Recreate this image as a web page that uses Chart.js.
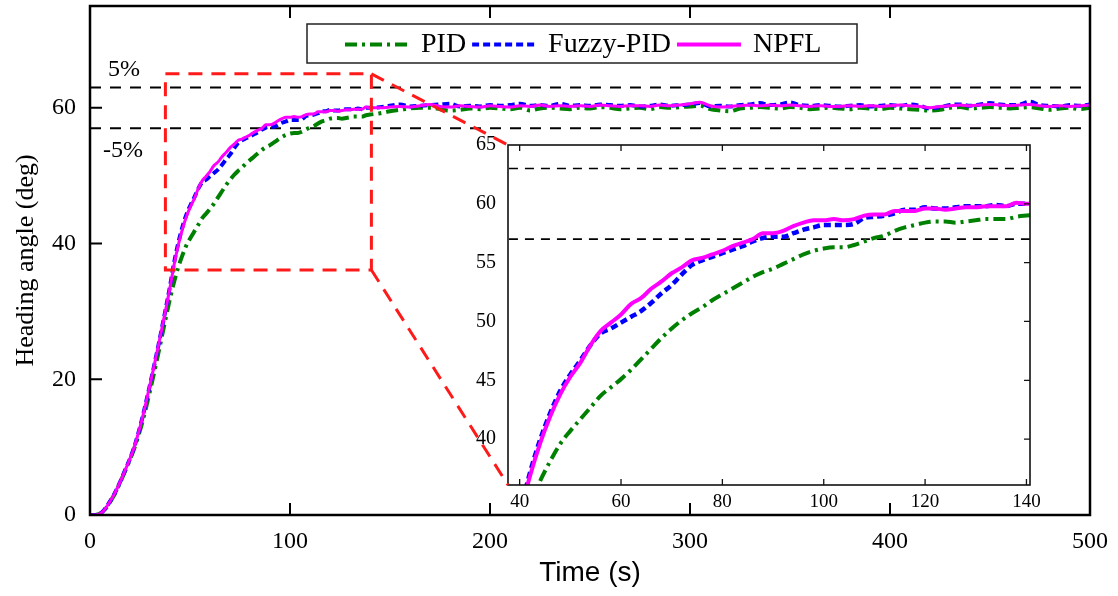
<!DOCTYPE html>
<html>
<head>
<meta charset="utf-8">
<script src="https://cdn.jsdelivr.net/npm/chart.js@4.4.1/dist/chart.umd.min.js"></script>
<style>
  html, body { margin: 0; padding: 0; background: #fff; }
  #wrap { position: relative; width: 1118px; height: 596px; }
  #wrap canvas { position: absolute; left: 0; top: 0; }
</style>
</head>
<body>
<div id="wrap">
  <canvas id="mainChart" width="1118" height="596"></canvas>
  <canvas id="insetChart" width="1118" height="596"></canvas>
</div>
<script>
// heading angle step response, 60 deg setpoint
const seriesNames = ['PID', 'Fuzzy-PID', 'NPFL'];

const time = [
  0, 2, 4, 6, 8, 10, 12, 14, 16, 18,
  20, 22, 24, 26, 28, 30, 32, 34, 36, 38,
  40, 42, 44, 46, 48, 50, 52, 54, 56, 58,
  60, 62, 64, 66, 68, 70, 72, 74, 76, 78,
  80, 82, 84, 86, 88, 90, 92, 94, 96, 98,
  100, 102, 104, 106, 108, 110, 112, 114, 116, 118,
  120, 122, 124, 126, 128, 130, 132, 134, 136, 138,
  140,
  145, 150, 155, 160, 165, 170, 175, 180, 185, 190,
  195, 200, 205, 210, 215, 220, 225, 230, 235, 240,
  245, 250, 255, 260, 265, 270, 275, 280, 285, 290,
  295, 300, 305, 310, 315, 320, 325, 330, 335, 340,
  345, 350, 355, 360, 365, 370, 375, 380, 385, 390,
  395, 400, 405, 410, 415, 420, 425, 430, 435, 440,
  445, 450, 455, 460, 465, 470, 475, 480, 485, 490,
  495, 500
];

const pid = [
  0, 0, 0.1, 0.4, 1.0, 1.9, 2.9, 4.1, 5.4, 6.8,
  8.2, 9.7, 11.5, 13.5, 15.8, 18.3, 20.9, 23.6, 26.4, 29.2,
  31.9, 34.3, 36.4, 38.1, 39.6, 40.7, 41.7, 42.7, 43.7, 44.4,
  45.1, 45.9, 46.8, 47.7, 48.6, 49.4, 50.1, 50.7, 51.2, 51.8,
  52.3, 52.8, 53.3, 53.8, 54.2, 54.5, 54.9, 55.3, 55.7, 56.0,
  56.2, 56.3, 56.3, 56.5, 56.8, 57.1, 57.3, 57.7, 58.0, 58.2,
  58.4, 58.5, 58.5, 58.4, 58.5, 58.6, 58.7, 58.7, 58.7, 58.9,
  59.0,
  59.2, 59.5, 59.7, 59.9, 60.0, 60.0, 59.8, 59.6, 59.7, 59.9,
  59.8, 60.0, 59.9, 59.8, 60.0, 59.6, 59.9, 60.0, 59.9, 59.8,
  60.0, 59.9, 60.1, 60.0, 59.8, 59.9, 60.0, 59.8, 60.1, 60.0,
  60.1, 60.2, 60.3, 59.8, 59.6, 59.5, 59.9, 60.0, 60.1, 60.0,
  59.9, 60.1, 60.0, 59.8, 59.9, 60.0, 59.9, 59.8, 60.0, 59.9,
  59.8, 60.0, 59.9, 59.8, 59.7, 59.6, 59.7, 60.0, 60.1, 59.9,
  60.0, 60.1, 60.0, 59.9, 60.0, 60.1, 59.9, 59.7, 59.9, 60.0,
  59.8, 60.0
];

const fuzzyPid = [
  0, 0, 0.1, 0.4, 1.1, 2.0, 3.0, 4.2, 5.5, 6.9,
  8.3, 9.9, 11.9, 14.1, 16.6, 19.2, 21.9, 24.7, 27.6, 30.6,
  33.7, 37.1, 39.9, 42.2, 44.1, 45.5, 46.7, 48.0, 49.0, 49.4,
  49.9, 50.4, 50.9, 51.6, 52.4, 53.1, 54.0, 54.8, 55.2, 55.5,
  55.8, 56.1, 56.4, 56.8, 57.1, 57.2, 57.2, 57.5, 57.8, 58.0,
  58.2, 58.2, 58.2, 58.3, 58.8, 58.9, 59.0, 59.2, 59.5, 59.5,
  59.7, 59.6, 59.6, 59.7, 59.8, 59.8, 59.8, 59.9, 59.8, 60.0,
  60.0,
  60.1, 60.3, 60.5, 60.2, 60.3, 60.4, 60.5, 60.6, 60.2, 60.3,
  60.2, 60.4, 60.3, 60.4, 60.6, 60.3, 60.4, 60.3, 60.6, 60.3,
  60.4, 60.3, 60.5, 60.4, 60.3, 60.4, 60.2, 60.3, 60.5, 60.3,
  60.4, 60.5, 60.7, 60.2, 60.3, 60.2, 60.4, 60.5, 60.7, 60.4,
  60.5, 60.8, 60.4, 60.3, 60.4, 60.3, 60.2, 60.3, 60.4, 60.2,
  60.3, 60.4, 60.3, 60.5, 60.3, 59.9, 60.1, 60.4, 60.5, 60.3,
  60.5, 60.7, 60.5, 60.4, 60.5, 60.9, 60.4, 60.3, 60.2, 60.4,
  60.3, 60.5
];

const npfl = [
  0, 0, 0.1, 0.4, 1.1, 2.0, 3.0, 4.2, 5.5, 6.9,
  8.3, 9.9, 11.9, 14.1, 16.6, 19.2, 21.9, 24.7, 27.6, 30.5,
  33.5, 36.8, 39.6, 41.9, 43.8, 45.3, 46.5, 48.0, 49.2, 49.9,
  50.6, 51.5, 52.0, 52.8, 53.4, 54.1, 54.6, 55.2, 55.4, 55.7,
  56.0, 56.4, 56.7, 57.0, 57.5, 57.5, 57.7, 58.1, 58.4, 58.6,
  58.6, 58.7, 58.6, 58.7, 59.0, 59.1, 59.1, 59.4, 59.4, 59.4,
  59.6, 59.6, 59.5, 59.6, 59.7, 59.7, 59.8, 59.8, 59.8, 60.1,
  60.0,
  60.0, 60.1, 60.2, 60.1, 60.3, 60.5, 60.2, 60.1, 60.3, 60.2,
  60.1, 60.3, 60.2, 60.1, 60.3, 60.2, 60.4, 60.2, 60.3, 60.2,
  60.3, 60.2, 60.4, 60.3, 60.2, 60.3, 60.3, 60.2, 60.4, 60.3,
  60.4, 60.6, 60.8, 60.3, 60.1, 60.2, 60.3, 60.4, 60.3, 60.4,
  60.3, 60.4, 60.3, 60.2, 60.3, 60.2, 60.2, 60.3, 60.2, 60.3,
  60.2, 60.3, 60.4, 60.3, 60.2, 60.0, 60.2, 60.3, 60.4, 60.3,
  60.4, 60.5, 60.4, 60.3, 60.4, 60.5, 60.3, 60.2, 60.3, 60.2,
  60.3, 60.4
];

// +/-5% band around the 60 deg setpoint
const bandTime = [0, 500];
const upperBand = 63;
const lowerBand = 57;
const bandLabels = ['5%', '-5%'];

const xTicks = [0, 100, 200, 300, 400, 500];
const yTicks = [0, 20, 40, 60];
const insetXTicks = [40, 60, 80, 100, 120, 140];
const insetYTicks = [40, 45, 50, 55, 60, 65];
const insetXRange = [37.7, 140.7];
const insetYRange = [36.1, 65];

const SERIF = '"Liberation Serif", "Times New Roman", serif';
const SANS = '"Liberation Sans", Arial, sans-serif';
const W = 1118, H = 596;
const MAIN = { left: 90, top: 6, right: 1090, bottom: 515 };
const INSET = { left: 508, top: 145, right: 1030, bottom: 485 };

const styles = [
  { color: '#008000', dash: [12, 5, 3, 5], width: 4, insetWidth: 4, order: 3 },
  { color: '#0000ff', dash: [7, 4], width: 4, insetWidth: 4.5, order: 2 },
  { color: '#ff00ff', dash: [], width: 3, insetWidth: 4, order: 1 },
];

Chart.defaults.color = '#000';

const pts = (ys) => time.map((t, i) => ({ x: t, y: ys[i] }));
const band = (v) => bandTime.map(t => ({ x: t, y: v }));

function buildDatasets(inset) {
  const series = [pid, fuzzyPid, npfl];
  const sets = series.map((ys, i) => ({
    label: seriesNames[i],
    data: pts(ys),
    borderColor: styles[i].color,
    borderWidth: inset ? styles[i].insetWidth : styles[i].width,
    borderDash: styles[i].dash,
    order: styles[i].order,
    pointRadius: 0,
    cubicInterpolationMode: 'monotone',
    clip: inset ? 0 : undefined,
  }));
  [upperBand, lowerBand].forEach(v => sets.push({
    label: 'band',
    data: band(v),
    borderColor: '#000',
    borderWidth: inset ? 1.6 : 2,
    borderDash: inset ? [9, 7] : [11, 9],
    order: 4,
    pointRadius: 0,
    clip: inset ? 0 : undefined,
  }));
  return sets;
}

// keep the plot area where the layout padding says, not where label overflow pushes it
function noScalePadding(s) {
  s.paddingTop = 0; s.paddingBottom = 0; s.paddingLeft = 0; s.paddingRight = 0;
}

function drawTicks(ctx, chart, xs, ys, len, sides) {
  const a = chart.chartArea;
  ctx.beginPath();
  xs.forEach(v => {
    const px = chart.scales.x.getPixelForValue(v);
    if (px <= a.left + 1 || px >= a.right - 1) return;
    if (sides.includes('b')) { ctx.moveTo(px, a.bottom); ctx.lineTo(px, a.bottom - len); }
    if (sides.includes('t')) { ctx.moveTo(px, a.top); ctx.lineTo(px, a.top + len); }
  });
  ys.forEach(v => {
    const py = chart.scales.y.getPixelForValue(v);
    if (py <= a.top + 1 || py >= a.bottom - 1) return;
    if (sides.includes('l')) { ctx.moveTo(a.left, py); ctx.lineTo(a.left + len, py); }
    if (sides.includes('r')) { ctx.moveTo(a.right, py); ctx.lineTo(a.right - len, py); }
  });
  ctx.stroke();
}

const mainDeco = {
  id: 'mainDeco',
  afterDraw(chart) {
    const { ctx, chartArea: a } = chart;
    ctx.save();
    ctx.strokeStyle = '#000';
    ctx.lineWidth = 2.5;
    ctx.strokeRect(a.left, a.top, a.right - a.left, a.bottom - a.top);
    ctx.lineWidth = 2;
    drawTicks(ctx, chart, xTicks, yTicks, 12, 'btl');

    // band labels
    const yS = chart.scales.y;
    ctx.fillStyle = '#000';
    ctx.font = `24px ${SERIF}`;
    ctx.textAlign = 'center';
    ctx.textBaseline = 'middle';
    ctx.fillText(bandLabels[0], a.left + 34, yS.getPixelForValue(upperBand) - 18);
    ctx.fillText(bandLabels[1], a.left + 33, yS.getPixelForValue(lowerBand) + 23);

    // legend
    const box = { x: 307, y: 24, w: 550, h: 39 };
    ctx.fillStyle = '#fff';
    ctx.fillRect(box.x, box.y, box.w, box.h);
    ctx.lineWidth = 1.5;
    ctx.strokeStyle = '#222';
    ctx.strokeRect(box.x, box.y, box.w, box.h);
    ctx.font = `28px ${SERIF}`;
    ctx.textAlign = 'left';
    const cy = box.y + box.h / 2 + 1;
    let x = 345;
    seriesNames.forEach((name, i) => {
      ctx.save();
      ctx.strokeStyle = styles[i].color;
      ctx.lineWidth = 4;
      ctx.setLineDash(styles[i].dash);
      ctx.beginPath();
      ctx.moveTo(x, cy);
      ctx.lineTo(x + 64, cy);
      ctx.stroke();
      ctx.restore();
      x += 76;
      ctx.fillStyle = '#000';
      ctx.fillText(name, x, cy);
      x += ctx.measureText(name).width + 6;
    });
    ctx.restore();
  }
};

const mainChart = new Chart(document.getElementById('mainChart'), {
  type: 'line',
  data: { datasets: buildDatasets(false) },
  options: {
    responsive: false,
    animation: false,
    events: [],
    layout: { padding: { left: 0, top: MAIN.top, right: W - MAIN.right, bottom: 0 } },
    plugins: { legend: { display: false }, tooltip: { enabled: false } },
    scales: {
      x: {
        type: 'linear', min: 0, max: 500,
        grid: { display: false, drawTicks: false },
        border: { display: false },
        afterBuildTicks: s => { s.ticks = xTicks.map(v => ({ value: v })); },
        afterFit: s => { s.height = H - MAIN.bottom; noScalePadding(s); },
        ticks: { font: { family: SERIF, size: 24 }, padding: 12, maxRotation: 0, autoSkip: false },
        title: { display: true, text: 'Time (s)', font: { family: SANS, size: 28 }, padding: { top: 0, bottom: 6 } }
      },
      y: {
        type: 'linear', min: 0, max: 75,
        grid: { display: false, drawTicks: false },
        border: { display: false },
        afterBuildTicks: s => { s.ticks = yTicks.map(v => ({ value: v })); },
        afterFit: s => { s.width = MAIN.left; noScalePadding(s); },
        ticks: { font: { family: SERIF, size: 24 }, padding: 14 },
        title: { display: true, text: 'Heading angle (deg)', font: { family: SERIF, size: 26 }, padding: { top: 11, bottom: 0 } }
      }
    }
  },
  plugins: [mainDeco]
});

const insetDeco = {
  id: 'insetDeco',
  beforeDraw(chart) {
    const { ctx, chartArea: a } = chart;
    ctx.save();
    ctx.fillStyle = '#fff';
    ctx.fillRect(a.left, a.top, a.right - a.left, a.bottom - a.top);
    ctx.restore();
  },
  afterDraw(chart) {
    const { ctx, chartArea: a } = chart;
    ctx.save();
    ctx.strokeStyle = '#111';
    ctx.lineWidth = 1.6;
    ctx.strokeRect(a.left, a.top, a.right - a.left, a.bottom - a.top);
    ctx.lineWidth = 1.3;
    drawTicks(ctx, chart, insetXTicks, insetYTicks, 6, 'btr');

    // zoom box on the main axes and connectors to the inset
    const mx = mainChart.scales.x, my = mainChart.scales.y;
    const l = mx.getPixelForValue(insetXRange[0]);
    const r = mx.getPixelForValue(insetXRange[1]);
    const t = my.getPixelForValue(insetYRange[1]);
    const b = my.getPixelForValue(insetYRange[0]);
    ctx.strokeStyle = '#ff1a1a';
    ctx.lineWidth = 3;
    ctx.setLineDash([14, 9]);
    ctx.strokeRect(l, t, r - l, b - t);
    ctx.beginPath();
    ctx.moveTo(r, t); ctx.lineTo(a.left, a.top);
    ctx.moveTo(r, b); ctx.lineTo(a.left, a.bottom);
    ctx.stroke();
    ctx.restore();
  }
};

new Chart(document.getElementById('insetChart'), {
  type: 'line',
  data: { datasets: buildDatasets(true) },
  options: {
    responsive: false,
    animation: false,
    events: [],
    layout: { padding: { left: 0, top: INSET.top, right: W - INSET.right, bottom: 0 } },
    plugins: { legend: { display: false }, tooltip: { enabled: false } },
    scales: {
      x: {
        type: 'linear', min: insetXRange[0], max: insetXRange[1],
        grid: { display: false, drawTicks: false },
        border: { display: false },
        afterBuildTicks: s => { s.ticks = insetXTicks.map(v => ({ value: v })); },
        afterFit: s => { s.height = H - INSET.bottom; noScalePadding(s); },
        ticks: { font: { family: SERIF, size: 19 }, padding: 6, maxRotation: 0, autoSkip: false }
      },
      y: {
        type: 'linear', min: insetYRange[0], max: insetYRange[1],
        grid: { display: false, drawTicks: false },
        border: { display: false },
        afterBuildTicks: s => { s.ticks = insetYTicks.map(v => ({ value: v })); },
        afterFit: s => { s.width = INSET.left; noScalePadding(s); },
        ticks: { font: { family: SERIF, size: 20 }, padding: 12 }
      }
    }
  },
  plugins: [insetDeco]
});
</script>
</body>
</html>
